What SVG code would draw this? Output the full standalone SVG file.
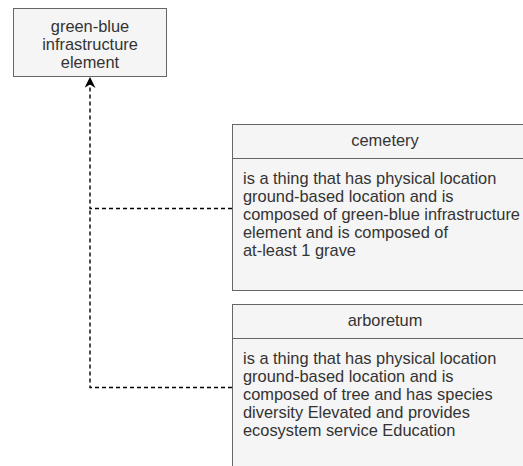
<svg xmlns="http://www.w3.org/2000/svg" width="523" height="466" viewBox="0 0 523 466">
  <style>
    .box { fill: #f5f5f5; stroke: #666666; stroke-width: 1; }
    .t { font-family: "Liberation Sans", Arial, sans-serif; font-size: 16.4px; fill: #333333; }
    .c { text-anchor: middle; }
    .edge { fill: none; stroke: #000000; stroke-width: 1.4; stroke-dasharray: 4 3; }
  </style>
  <defs>
    <marker id="arrow" viewBox="0 0 10 10" refX="9" refY="5" markerWidth="11" markerHeight="11" markerUnits="userSpaceOnUse" orient="auto">
      <path d="M0,0 L10,5 L0,10 L3,5 Z" fill="#000000"/>
    </marker>
  </defs>

  <g id="connectors">
    <path class="edge" d="M232,208.5 H90 V78" marker-end="url(#arrow)"/>
    <path class="edge" d="M232,387.5 H90 V208.5"/>
  </g>

  <g id="green-blue-element">
    <rect class="box" x="13.5" y="8.5" width="153" height="68"/>
    <text class="t c" x="90" y="31.5">green-blue</text>
    <text class="t c" x="90" y="49.5">infrastructure</text>
    <text class="t c" x="90" y="67.5">element</text>
  </g>

  <g id="cemetery">
    <rect class="box" x="232.5" y="124.5" width="302" height="166"/>
    <line x1="232.5" y1="158.5" x2="534.5" y2="158.5" stroke="#666666"/>
    <text class="t c" x="385" y="146">cemetery</text>
    <text class="t" x="243" y="184">is a thing that has physical location</text>
    <text class="t" x="243" y="202">ground-based location and is</text>
    <text class="t" x="243" y="220">composed of green-blue infrastructure</text>
    <text class="t" x="243" y="238">element and is composed of</text>
    <text class="t" x="243" y="256">at-least 1 grave</text>
  </g>

  <g id="arboretum">
    <rect class="box" x="232.5" y="304.5" width="302" height="180"/>
    <line x1="232.5" y1="338.5" x2="534.5" y2="338.5" stroke="#666666"/>
    <text class="t c" x="385" y="326">arboretum</text>
    <text class="t" x="243" y="364">is a thing that has physical location</text>
    <text class="t" x="243" y="382">ground-based location and is</text>
    <text class="t" x="243" y="400">composed of tree and has species</text>
    <text class="t" x="243" y="418">diversity Elevated and provides</text>
    <text class="t" x="243" y="436">ecosystem service Education</text>
  </g>
</svg>
